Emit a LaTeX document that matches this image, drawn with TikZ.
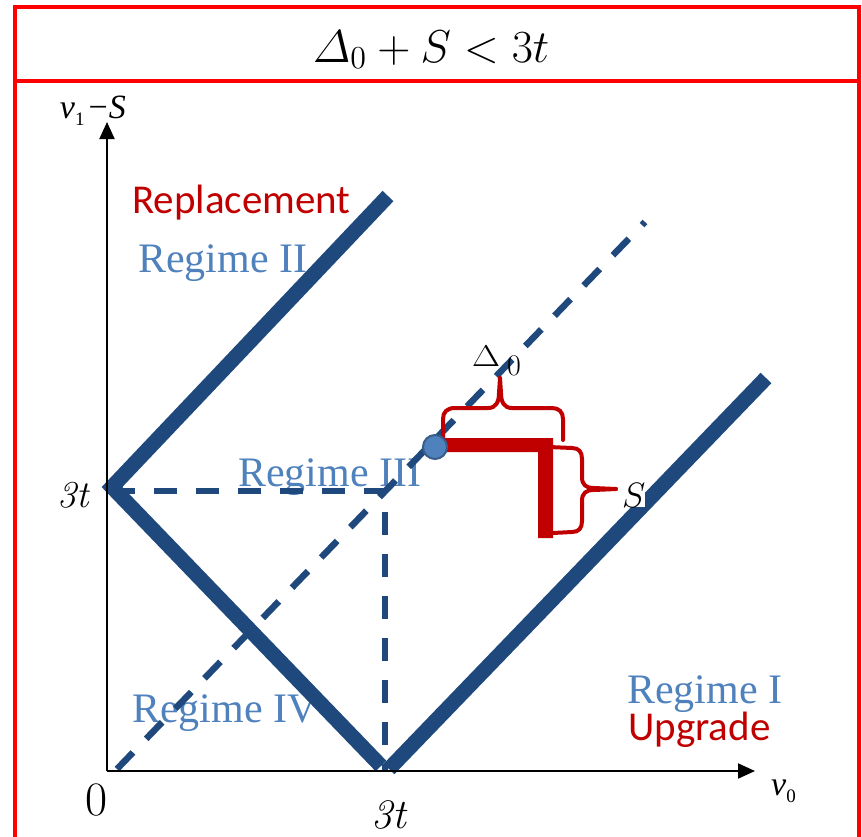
\documentclass[tikz,border=0pt]{standalone}
\usepackage{graphicx}
\usepackage{fontspec}
\newfontfamily\timesf{Liberation Serif}
\newfontfamily\calibrif{Carlito}
\usetikzlibrary{arrows.meta}
\definecolor{navy}{RGB}{31,73,125}
\definecolor{regblue}{RGB}{79,129,189}
\definecolor{darkred}{RGB}{192,0,0}
\definecolor{dotedge}{RGB}{56,93,138}
\begin{document}
\begin{tikzpicture}[x=1pt,y=-1pt,
  thickline/.style={draw=navy,line width=15pt,line join=miter},
  dashline/.style={draw=navy,line width=6.5pt,dash pattern=on 23pt off 19pt},
  axis/.style={draw=black,line width=2pt,-{Triangle[length=17pt,width=15pt]}},
  regime/.style={text=regblue,font=\timesf\fontsize{42}{48}\selectfont,anchor=base west,inner sep=0pt},
  action/.style={text=darkred,font=\calibrif\fontsize{41}{48}\selectfont,anchor=base west,inner sep=0pt},
  bracepath/.style={draw=darkred,line width=4pt,line join=round,line cap=round},
  frameline/.style={draw=red,line width=4.5pt},
  lbl/.style={inner sep=0pt},
]
\useasboundingbox (0,0) rectangle (862,836);
\begin{scope}
\clip (0,0) rectangle (862,836);
\draw[frameline] (15,7) rectangle (859,900);
\draw[frameline] (15,81) -- (859,81);
\end{scope}

% title
\node[lbl,anchor=base] (title) at (431,62) {\huge\scalebox{2.22}{$\mathnormal{\Delta}_0+S<3t$}};

% text labels
\node[action] (repl) at (132,213) {Replacement};
\node[regime] (r2) at (138,272) {Regime II};
\node[regime] (r3) at (238,486) {Regime III};
\node[regime] (r4) at (132,722) {Regime IV};
\node[regime] (r1) at (627,703) {Regime I};
\node[action] (upg) at (628,740) {Upgrade};

% coordinates
\coordinate (O) at (107,771);
\coordinate (ytip) at (107,122);
\coordinate (xtip) at (755,771);
\coordinate (apex) at (112,487);
\coordinate (topend) at (388,196);
\coordinate (vleft) at (381,766);
\coordinate (vright) at (389,769);
\coordinate (rightend) at (766,378);
\coordinate (hstart) at (112,491);
\coordinate (corner) at (385,491);
\coordinate (vbot) at (385,771);
\coordinate (dstart) at (117,769);
\coordinate (dend) at (645,222);

% dashed lines
\draw[dashline] (hstart) -- (corner) -- (vbot);
\draw[dashline] (dstart) -- (dend);

% thick boundary lines
\draw[thickline] (topend) -- (apex) -- (vleft);
\draw[thickline] (vright) -- (rightend);

% axes
\draw[axis] (O) -- (ytip);
\draw[axis] (O) -- (xtip);

% red L bar
\fill[darkred] (440,438) -- (553,438) -- (553,538) -- (538,538) -- (538,452) -- (440,452) -- cycle;

% top brace
\draw[bracepath] (443,440) -- (443,419) .. controls (443,412) and (447,408) .. (455,408) -- (488,408)
  .. controls (496,408) and (499,402) .. (499,393) -- (500,378);
\draw[bracepath] (500,378) -- (501,393) .. controls (501,402) and (504,408) .. (512,408) -- (552,408)
  .. controls (559,408) and (563,412) .. (563,419) -- (563,440);
% right brace
\draw[bracepath] (549,447) -- (572,448) .. controls (579,448) and (582,452) .. (582,459) -- (582,477)
  .. controls (582,485) and (586,488) .. (594,488) -- (616,489);
\draw[bracepath] (616,489) -- (594,490) .. controls (586,490) and (582,493) .. (582,501) -- (582,521)
  .. controls (582,528) and (579,532) .. (572,532) -- (553,533);

% dot
\node[circle,fill=regblue,draw=dotedge,line width=2pt,minimum size=24pt,inner sep=0pt] (dot) at (435,447) {};

% brace labels
\node[lbl,anchor=base west] (d0) at (472,366) {\huge\scalebox{1.75}[1.45]{\usefont{OT1}{cmr}{m}{n}\char1}};
\node[lbl,anchor=base west] (d0sub) at (507,375) {\fontsize{30}{30}\selectfont 0};
\node[lbl,anchor=base west,fill=white] (slab) at (622,507) {\huge\scalebox{1.7}{$S$}};

% axis value labels
\node[lbl,anchor=base east] (y3t) at (91,507) {\fontsize{38}{40}\selectfont\textit{3t}};
\node[lbl,anchor=base] (x3t) at (390,828) {\fontsize{42}{44}\selectfont\textit{3t}};
\node[lbl,anchor=base] (zero) at (97,815) {\fontsize{48}{50}\selectfont 0};

% axis names
\node[lbl,anchor=base east] (ylab) at (126,118) {\timesf\fontsize{34}{36}\selectfont\itshape v\upshape\raisebox{-0.22em}{\fontsize{19}{19}\selectfont 1}\hspace{0.12em}−\hspace{0.03em}\itshape S};
\node[lbl,anchor=base west] (xlab) at (771,795) {\timesf\fontsize{34}{36}\selectfont\itshape v\upshape\raisebox{-0.22em}{\fontsize{19}{19}\selectfont 0}};
\end{tikzpicture}
\end{document}
